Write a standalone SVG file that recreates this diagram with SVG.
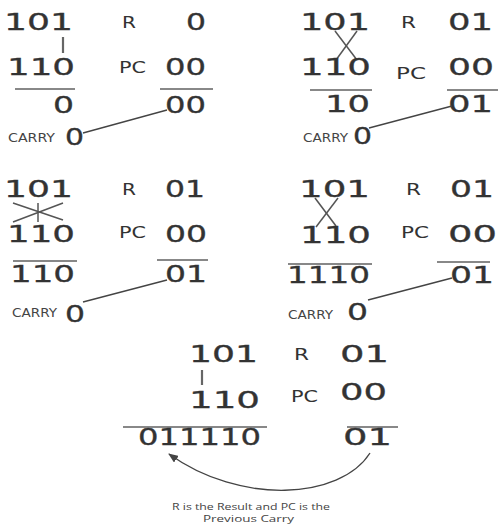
<svg xmlns="http://www.w3.org/2000/svg" width="498" height="527" viewBox="0 0 498 527">
<style>
.d{font-family:"DejaVu Sans",sans-serif;font-size:23px;fill:#333;stroke:#333;stroke-width:0.3}
.l{font-family:"DejaVu Sans",sans-serif;font-size:16.5px;fill:#333}
.c{font-family:"DejaVu Sans",sans-serif;font-size:12px;fill:#444}
.n{font-family:"Open Sans","DejaVu Sans",sans-serif;font-size:8.5px;fill:#444}
.u{stroke:#888;stroke-width:2;fill:none}
.k{stroke:#555;stroke-width:1.5;fill:none}
.v{stroke:#666;stroke-width:2.2;fill:none}
.cn{stroke:#444;stroke-width:1.3;fill:none}
</style>
<defs>
<marker id="ah" markerWidth="10" markerHeight="8" refX="9" refY="4" orient="auto" markerUnits="userSpaceOnUse">
<path d="M0,0 L10,4 L0,8 Z" fill="#444"/>
</marker>
</defs>

<g id="step1">
<text class="d" x="4" y="30" textLength="69" lengthAdjust="spacingAndGlyphs">101</text>
<text class="l" x="122" y="28" textLength="14" lengthAdjust="spacingAndGlyphs">R</text>
<text class="d" x="186" y="30" textLength="20" lengthAdjust="spacingAndGlyphs">0</text>
<line class="v" x1="63" y1="37" x2="63" y2="53"/>
<text class="d" x="7" y="75" textLength="68" lengthAdjust="spacingAndGlyphs">110</text>
<text class="l" x="119" y="73" textLength="27" lengthAdjust="spacingAndGlyphs">PC</text>
<text class="d" x="165" y="75" textLength="41" lengthAdjust="spacingAndGlyphs">00</text>
<line class="u" x1="15" y1="89" x2="75" y2="89"/>
<line class="u" x1="160" y1="89" x2="213" y2="89"/>
<text class="d" x="53" y="113" textLength="21" lengthAdjust="spacingAndGlyphs">0</text>
<text class="d" x="165" y="113" textLength="41" lengthAdjust="spacingAndGlyphs">00</text>
<text class="c" x="8" y="142" textLength="47" lengthAdjust="spacingAndGlyphs">CARRY</text>
<text class="d" x="65" y="145" textLength="19" lengthAdjust="spacingAndGlyphs">0</text>
</g>

<g id="step2">
<text class="d" x="300" y="30" textLength="70" lengthAdjust="spacingAndGlyphs">101</text>
<text class="l" x="401" y="28" textLength="15" lengthAdjust="spacingAndGlyphs">R</text>
<text class="d" x="448" y="30" textLength="45" lengthAdjust="spacingAndGlyphs">01</text>
<line class="k" x1="335" y1="31" x2="357" y2="60"/>
<line class="k" x1="357" y1="31" x2="336" y2="60"/>
<text class="d" x="300" y="75" textLength="71" lengthAdjust="spacingAndGlyphs">110</text>
<text class="l" x="396" y="79" textLength="30" lengthAdjust="spacingAndGlyphs">PC</text>
<text class="d" x="448" y="75" textLength="46" lengthAdjust="spacingAndGlyphs">00</text>
<line class="u" x1="310" y1="90" x2="372" y2="90"/>
<line class="u" x1="447" y1="90" x2="498" y2="90"/>
<text class="d" x="325" y="112" textLength="45" lengthAdjust="spacingAndGlyphs">10</text>
<text class="d" x="448" y="112" textLength="45" lengthAdjust="spacingAndGlyphs">01</text>
<text class="c" x="303" y="142" textLength="45" lengthAdjust="spacingAndGlyphs">CARRY</text>
<text class="d" x="353" y="144" textLength="19" lengthAdjust="spacingAndGlyphs">0</text>
</g>

<g id="step3">
<text class="d" x="4" y="197" textLength="69" lengthAdjust="spacingAndGlyphs">101</text>
<text class="l" x="122" y="195" textLength="14" lengthAdjust="spacingAndGlyphs">R</text>
<text class="d" x="165" y="197" textLength="40" lengthAdjust="spacingAndGlyphs">01</text>
<line class="k" x1="13" y1="203" x2="63" y2="220"/>
<line class="k" x1="13" y1="222" x2="63" y2="203"/>
<line class="k" x1="38" y1="203" x2="38" y2="222"/>
<text class="d" x="7" y="242" textLength="68" lengthAdjust="spacingAndGlyphs">110</text>
<text class="l" x="119" y="238" textLength="27" lengthAdjust="spacingAndGlyphs">PC</text>
<text class="d" x="165" y="242" textLength="42" lengthAdjust="spacingAndGlyphs">00</text>
<line class="u" x1="13" y1="261" x2="77" y2="261"/>
<line class="u" x1="157" y1="260" x2="208" y2="260"/>
<text class="d" x="10" y="282" textLength="65" lengthAdjust="spacingAndGlyphs">110</text>
<text class="d" x="165" y="282" textLength="42" lengthAdjust="spacingAndGlyphs">01</text>
<text class="c" x="12" y="317" textLength="45" lengthAdjust="spacingAndGlyphs">CARRY</text>
<text class="d" x="65" y="322" textLength="20" lengthAdjust="spacingAndGlyphs">0</text>
</g>

<g id="step4">
<text class="d" x="299" y="197" textLength="71" lengthAdjust="spacingAndGlyphs">101</text>
<text class="l" x="406" y="195" textLength="15" lengthAdjust="spacingAndGlyphs">R</text>
<text class="d" x="450" y="197" textLength="44" lengthAdjust="spacingAndGlyphs">01</text>
<line class="k" x1="315" y1="198" x2="336" y2="226"/>
<line class="k" x1="338" y1="198" x2="316" y2="227"/>
<text class="d" x="300" y="243" textLength="71" lengthAdjust="spacingAndGlyphs">110</text>
<text class="l" x="401" y="238" textLength="28" lengthAdjust="spacingAndGlyphs">PC</text>
<text class="d" x="448" y="242" textLength="49" lengthAdjust="spacingAndGlyphs">00</text>
<line class="u" x1="288" y1="264" x2="372" y2="264"/>
<line class="u" x1="437" y1="262" x2="490" y2="262"/>
<text class="d" x="287" y="283" textLength="83" lengthAdjust="spacingAndGlyphs">1110</text>
<text class="d" x="450" y="283" textLength="44" lengthAdjust="spacingAndGlyphs">01</text>
<text class="c" x="288" y="319" textLength="45" lengthAdjust="spacingAndGlyphs">CARRY</text>
<text class="d" x="347" y="320" textLength="21" lengthAdjust="spacingAndGlyphs">0</text>
</g>

<g id="step5">
<text class="d" x="189" y="362" textLength="69" lengthAdjust="spacingAndGlyphs">101</text>
<text class="l" x="294" y="360" textLength="15" lengthAdjust="spacingAndGlyphs">R</text>
<text class="d" x="340" y="362" textLength="49" lengthAdjust="spacingAndGlyphs">01</text>
<line class="v" x1="202" y1="370" x2="202" y2="385"/>
<text class="d" x="189" y="408" textLength="71" lengthAdjust="spacingAndGlyphs">110</text>
<text class="l" x="291" y="402" textLength="27" lengthAdjust="spacingAndGlyphs">PC</text>
<text class="d" x="340" y="400" textLength="47" lengthAdjust="spacingAndGlyphs">00</text>
<line class="u" x1="123" y1="427" x2="267" y2="427"/>
<line class="u" x1="347" y1="427" x2="398" y2="427"/>
<text class="d" x="138" y="445" textLength="123" lengthAdjust="spacingAndGlyphs">011110</text>
<text class="d" x="343" y="445" textLength="49" lengthAdjust="spacingAndGlyphs">01</text>
</g>

<g id="note">
<text class="n" x="172" y="510" textLength="158" lengthAdjust="spacingAndGlyphs">R is the Result and PC is the</text>
<text class="n" x="203" y="522" textLength="91" lengthAdjust="spacingAndGlyphs">Previous Carry</text>
</g>

<g id="connectors">
<line class="cn" x1="83" y1="133" x2="167" y2="110"/>
<line class="cn" x1="369" y1="128" x2="452" y2="106"/>
<line class="cn" x1="83" y1="302" x2="167" y2="280"/>
<line class="cn" x1="368" y1="300" x2="452" y2="278"/>
<path class="cn" d="M370,453 C340,500 240,505 169,454" marker-end="url(#ah)"/>
</g>
</svg>
